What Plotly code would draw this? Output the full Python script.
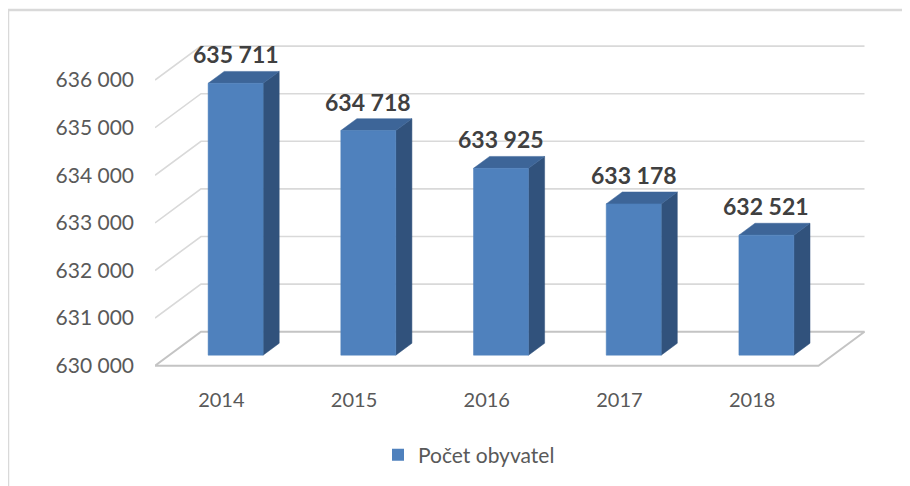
import plotly.graph_objects as go

# ---- data ----
years = ["2014", "2015", "2016", "2017", "2018"]
population = [635711, 634718, 633925, 633178, 632521]
value_labels = ["635 711", "634 718", "633 925", "633 178", "632 521"]
y_ticks = [630000, 631000, 632000, 633000, 634000, 635000, 636000]
y_tick_labels = ["630 000", "631 000", "632 000", "633 000", "634 000", "635 000", "636 000"]
series_name = "Počet obyvatel"

# ---- layout geometry (pixels, page coords; body margin compensated) ----
OFF = 8
W, H = 910, 486
L, R, T, B = 155 - OFF, 880 - OFF, 30 - OFF, 380 - OFF
px_per_cat = 132.7
px_per_val = 0.0476          # pixels per one unit of value
base = y_ticks[0]
front_zero_px = 365.7 - OFF

x_lo = -0.5
x_hi = x_lo + (R - L) / px_per_cat
y_lo = base - (B - front_zero_px) / px_per_val
y_hi = base + (front_zero_px - T) / px_per_val

DX = 46 / px_per_cat          # depth offset in category units
DY = 34 / px_per_val          # depth offset in value units
f1, f2 = 0.31, 0.66           # bar front / back depth fractions
hw = 27.5 / px_per_cat        # half width of bar

FRONT = "#4F81BD"
SIDE = "#31527C"
TOP = "#3D6598"
GRID = "#D9D9D9"
FLOOR = "#C4C4C4"
FONT = "Lato, 'Open Sans', sans-serif"

fig = go.Figure()

n = len(years)
xl, xr = -0.5, n - 0.5

# back-wall gridlines (slanted + horizontal)
for v in y_ticks[1:]:
    fig.add_trace(go.Scatter(
        x=[xl, xl + DX, xr + DX], y=[v, v + DY, v + DY],
        mode="lines", line=dict(color=GRID, width=1.6),
        hoverinfo="skip", showlegend=False))

# floor
fig.add_trace(go.Scatter(
    x=[xl, xr, xr + DX, xl + DX, xl],
    y=[base, base, base + DY, base + DY, base],
    mode="lines", line=dict(color=FLOOR, width=2),
    hoverinfo="skip", showlegend=False))

# bars
for i, v in enumerate(population):
    cx1 = i + f1 * DX
    cx2 = i + f2 * DX
    b1 = base + f1 * DY
    b2 = base + f2 * DY
    t1 = v + f1 * DY
    t2 = v + f2 * DY
    # side face
    fig.add_trace(go.Scatter(
        x=[cx1 + hw, cx2 + hw, cx2 + hw, cx1 + hw, cx1 + hw],
        y=[b1, b2, t2, t1, b1], fill="toself", fillcolor=SIDE,
        mode="lines", line=dict(color=SIDE, width=0.5),
        hoverinfo="skip", showlegend=False))
    # top face
    fig.add_trace(go.Scatter(
        x=[cx1 - hw, cx1 + hw, cx2 + hw, cx2 - hw, cx1 - hw],
        y=[t1, t1, t2, t2, t1], fill="toself", fillcolor=TOP,
        mode="lines", line=dict(color=TOP, width=0.5),
        hoverinfo="skip", showlegend=False))
    # front face
    fig.add_trace(go.Scatter(
        x=[cx1 - hw, cx1 + hw, cx1 + hw, cx1 - hw, cx1 - hw],
        y=[b1, b1, t1, t1, b1], fill="toself", fillcolor=FRONT,
        mode="lines", line=dict(color=FRONT, width=0.5),
        hoverinfo="text", text=f"{years[i]}: {value_labels[i]}",
        showlegend=False))
    fig.add_annotation(
        x=cx1, y=t2, text=value_labels[i], showarrow=False,
        xref="x", yref="y", yanchor="bottom", xanchor="center", yshift=1,
        font=dict(family=FONT, size=23, color="#404040", weight="bold"))

# legend entry
fig.add_trace(go.Scatter(
    x=[None], y=[None], mode="markers", name=series_name,
    marker=dict(symbol="square", size=12, color=FRONT)))

# chart border
fig.add_shape(type="rect", xref="paper", yref="paper",
              x0=(8 - OFF - L) / (R - L), x1=(930 - OFF - L) / (R - L),
              y0=(B - (500 - OFF)) / (B - T), y1=(B - (10 - OFF)) / (B - T),
              line=dict(color="#D9D9D9", width=2.5), fillcolor="rgba(0,0,0,0)",
              layer="below")

fig.update_layout(
    width=W, height=H,
    margin=dict(l=L, r=W - R, t=T, b=H - B),
    plot_bgcolor="white", paper_bgcolor="white",
    font=dict(family=FONT, size=20, color="#595959"),
    xaxis=dict(range=[x_lo, x_hi], tickvals=list(range(n)), ticktext=years,
               showgrid=False, zeroline=False, showline=False, ticks="",
               ticklabelstandoff=6, tickfont=dict(size=20, color="#595959")),
    yaxis=dict(range=[y_lo, y_hi], tickvals=y_ticks, ticktext=y_tick_labels,
               showgrid=False, zeroline=False, showline=False, ticks="",
               ticklabelstandoff=20, tickfont=dict(size=21, color="#595959")),
    showlegend=True,
    legend=dict(orientation="h", x=(378 - OFF - L) / (R - L), xanchor="left",
                y=(B - (455 - OFF)) / (B - T), yanchor="middle",
                font=dict(size=21, color="#595959"), itemwidth=30,
                bgcolor="rgba(0,0,0,0)"),
)

fig.write_html("out.html")
